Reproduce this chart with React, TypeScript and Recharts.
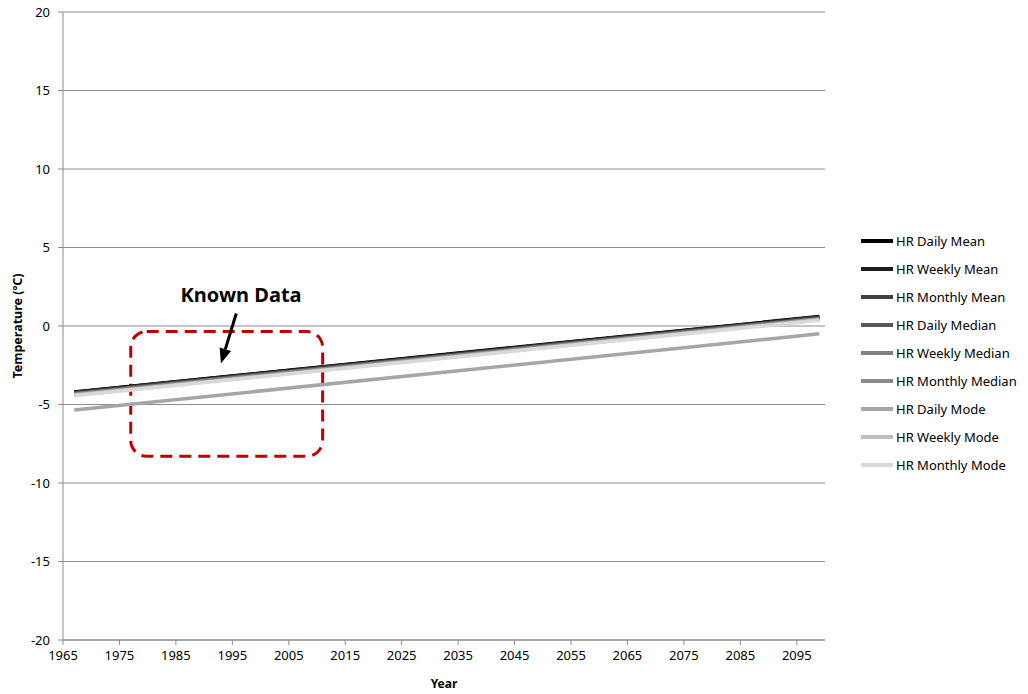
import React from "react";
import {CartesianGrid, Legend, Line, LineChart, ReferenceArea, XAxis, YAxis} from "recharts";

const years = [1967, 2099];
const dailyMean = [-4.2, 0.6];
const weeklyMean = [-4.22, 0.58];
const monthlyMean = [-4.25, 0.55];
const dailyMedian = [-4.3, 0.5];
const weeklyMedian = [-4.33, 0.47];
const monthlyMedian = [-4.36, 0.44];
const dailyMode = [-5.35, -0.5];
const weeklyMode = [-4.4, 0.4];
const monthlyMode = [-4.44, 0.36];

const xTicks = [1965, 1975, 1985, 1995, 2005, 2015, 2025, 2035, 2045, 2055, 2065, 2075, 2085, 2095];
const yTicks = [-20, -15, -10, -5, 0, 5, 10, 15, 20];

// known data box
const knownX = [1977, 2011];
const knownY = [-8.3, -0.35];

const series = [
    {key: "dailyMean", name: "HR Daily Mean", values: dailyMean, color: "#000000"},
    {key: "weeklyMean", name: "HR Weekly Mean", values: weeklyMean, color: "#1c1c1c"},
    {key: "monthlyMean", name: "HR Monthly Mean", values: monthlyMean, color: "#3f3f3f"},
    {key: "dailyMedian", name: "HR Daily Median", values: dailyMedian, color: "#575757"},
    {key: "weeklyMedian", name: "HR Weekly Median", values: weeklyMedian, color: "#808080"},
    {key: "monthlyMedian", name: "HR Monthly Median", values: monthlyMedian, color: "#8a8a8a"},
    {key: "dailyMode", name: "HR Daily Mode", values: dailyMode, color: "#a6a6a6"},
    {key: "weeklyMode", name: "HR Weekly Mode", values: weeklyMode, color: "#bfbfbf"},
    {key: "monthlyMode", name: "HR Monthly Mode", values: monthlyMode, color: "#d9d9d9"},
];

const data = years.map((year, i) => {
    const row: Record<string, number> = {year};
    series.forEach(s => {
        row[s.key] = s.values[i];
    });
    return row;
});

const AXIS = "#8c8c8c";
const FONT = "'Noto Sans', sans-serif";

const KnownBox = (props: any) => {
    const {x, y, width, height} = props;
    const sx = x + width * 0.55;
    const sy = y - 18;
    const ex = x + width * 0.47;
    const ey = y + 32;
    const dx = ex - sx;
    const dy = ey - sy;
    const len = Math.sqrt(dx * dx + dy * dy);
    const ux = dx / len;
    const uy = dy / len;
    const head = 15;
    const half = 6;
    const bx = ex - ux * head;
    const by = ey - uy * head;
    return (
        <g>
            <rect x={x} y={y} width={width} height={height} rx={16} ry={16} fill="none"
                  stroke="#c00000" strokeWidth={3} strokeDasharray="12 7"/>
            <line x1={sx} y1={sy} x2={bx} y2={by} stroke="#000" strokeWidth={3}/>
            <polygon
                points={`${ex},${ey} ${bx - uy * half},${by + ux * half} ${bx + uy * half},${by - ux * half}`}
                fill="#000"/>
            <text x={x + width * 0.575} y={y - 29} textAnchor="middle" fontSize={20} fontWeight="bold"
                  fontFamily={FONT} fill="#000">Known Data</text>
        </g>
    );
};

// legend drawn in series order (recharts would sort it by name)
const LegendContent = () => (
    <div style={{fontFamily: FONT, fontSize: 13, color: "#000"}}>
        {series.map(s => (
            <div key={s.key} style={{height: 28, display: "flex", alignItems: "center"}}>
                <svg width={36} height={10}>
                    <line x1={1} y1={5} x2={33} y2={5} stroke={s.color} strokeWidth={4}/>
                </svg>
                <span style={{whiteSpace: "nowrap"}}>{s.name}</span>
            </div>
        ))}
    </div>
);

export default function App() {
    return (
        <div style={{position: "absolute", left: 0, top: 0, width: 1028, height: 694, background: "#fff", fontFamily: FONT}}>
            <LineChart width={1028} height={694} data={data} margin={{top: 12, right: 203, bottom: 0, left: 8}}>
                <CartesianGrid vertical={false} stroke={AXIS} strokeWidth={1}/>
                <XAxis dataKey="year" type="number" domain={[1965, 2100]} ticks={xTicks} interval={0}
                       height={54} tickSize={5} tickMargin={6}
                       stroke={AXIS} tick={{fill: "#000", fontSize: 13, fontFamily: FONT}}
                       label={{value: "Year", position: "insideBottom", offset: 6, fontSize: 12, fontWeight: "bold", fill: "#000", fontFamily: FONT}}/>
                <YAxis type="number" domain={[-20, 20]} ticks={yTicks} interval={0} width={55}
                       tickSize={5} tickMargin={8} stroke={AXIS}
                       tick={{fill: "#000", fontSize: 13, fontFamily: FONT}}
                       label={{value: "Temperature (ºC)", angle: -90, position: "insideLeft", offset: 10,
                           style: {textAnchor: "middle"}, fontSize: 12.5, fontWeight: "bold", fill: "#000", fontFamily: FONT}}/>
                <ReferenceArea x1={knownX[0]} x2={knownX[1]} y1={knownY[0]} y2={knownY[1]} shape={<KnownBox/>}/>
                {series.map(s => (
                    <Line key={s.key} dataKey={s.key} name={s.name} type="linear" stroke={s.color}
                          strokeWidth={3.5} dot={false} activeDot={false} isAnimationActive={false}/>
                ))}
                <Legend layout="vertical" align="center" verticalAlign="middle" content={<LegendContent/>}
                        wrapperStyle={{left: 860, top: 227, width: 170}}/>
            </LineChart>
        </div>
    );
}
